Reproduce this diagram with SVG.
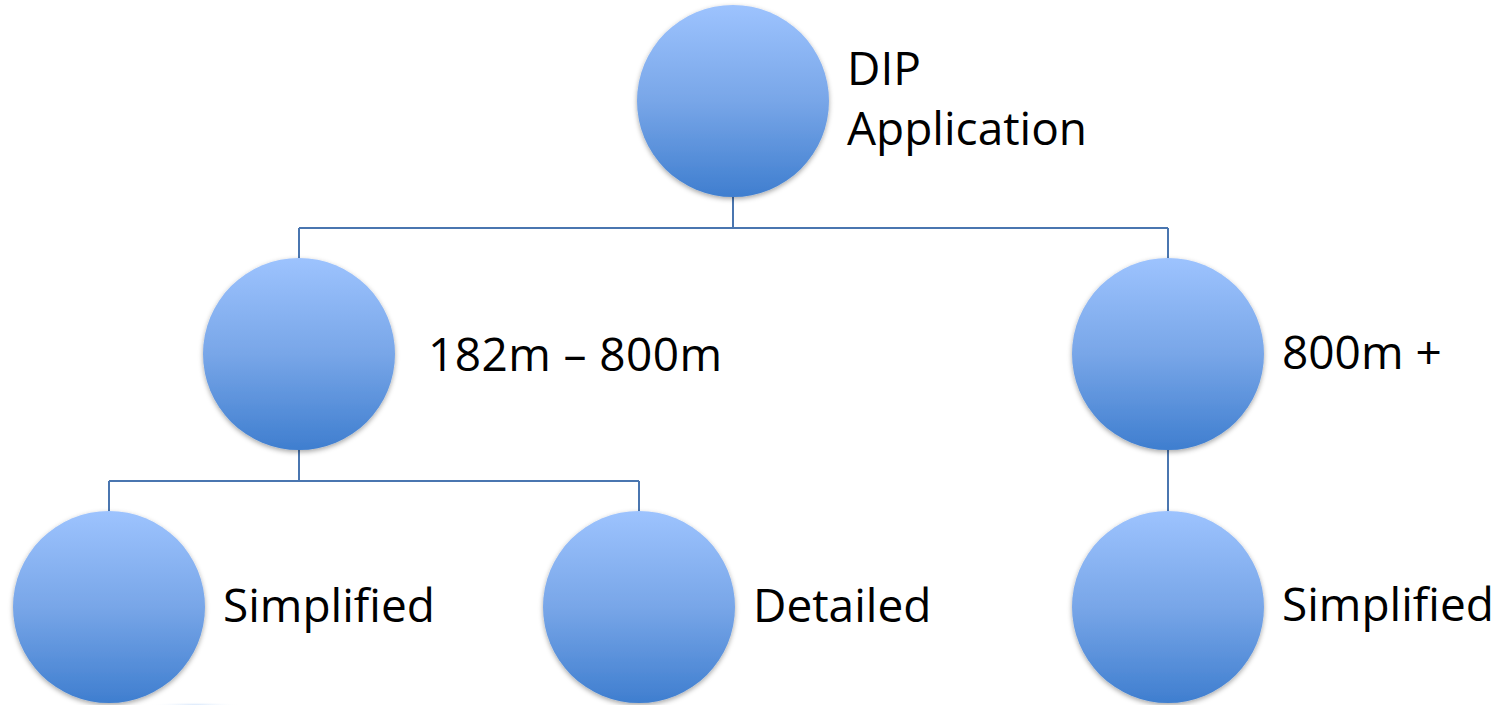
<svg xmlns="http://www.w3.org/2000/svg" width="1503" height="705" viewBox="0 0 1503 705">
  <style>
    .node circle { fill: url(#blueGrad); filter: url(#shadow); }
    .lbl { font-family: "Open Sans", "Noto Sans", "Liberation Sans", sans-serif; font-size: 46px; fill: #000; }
    .conn { stroke: #4a76b0; stroke-width: 2; fill: none; }
  </style>
  <defs>
    <linearGradient id="blueGrad" x1="0" y1="0" x2="0" y2="1">
      <stop offset="0" stop-color="#9dc3fe"/>
      <stop offset="0.5" stop-color="#78a6e8"/>
      <stop offset="1" stop-color="#3f7ecf"/>
    </linearGradient>
    <filter id="shadow" x="-20%" y="-20%" width="140%" height="140%">
      <feDropShadow dx="0" dy="2" stdDeviation="2.5" flood-color="#000" flood-opacity="0.35"/>
    </filter>
    <radialGradient id="smudge" cx="0.5" cy="0.5" r="0.5">
      <stop offset="0" stop-color="#cfe2fb" stop-opacity="0.9"/>
      <stop offset="1" stop-color="#ffffff" stop-opacity="0"/>
    </radialGradient>
  </defs>
  <rect width="1503" height="705" fill="#ffffff"/>

  <g id="connectors">
    <path class="conn" d="M733 197 V228 M299 228 H1168 M299 228 V258 M1168 228 V258"/>
    <path class="conn" d="M299 450 V481 M109 481 H639 M109 481 V511 M639 481 V511"/>
    <path class="conn" d="M1168 450 V511"/>
  </g>

  <ellipse cx="195" cy="705" rx="45" ry="3" fill="url(#smudge)"/>

  <g id="node-dip" class="node">
    <circle cx="733" cy="101" r="96"/>
    <text class="lbl" x="847" y="85">DIP</text>
    <text class="lbl" x="847" y="145">Application</text>
  </g>
  <g id="node-182-800" class="node">
    <circle cx="299" cy="354" r="96"/>
    <text class="lbl" x="428" y="371" textLength="294">182m – 800m</text>
  </g>
  <g id="node-800plus" class="node">
    <circle cx="1168" cy="354" r="96"/>
    <text class="lbl" x="1282" y="369">800m +</text>
  </g>
  <g id="node-simplified-left" class="node">
    <circle cx="109" cy="607" r="96"/>
    <text class="lbl" x="223" y="622">Simplified</text>
  </g>
  <g id="node-detailed" class="node">
    <circle cx="639" cy="607" r="96"/>
    <text class="lbl" x="753" y="622">Detailed</text>
  </g>
  <g id="node-simplified-right" class="node">
    <circle cx="1168" cy="607" r="96"/>
    <text class="lbl" x="1282" y="621">Simplified</text>
  </g>
</svg>
